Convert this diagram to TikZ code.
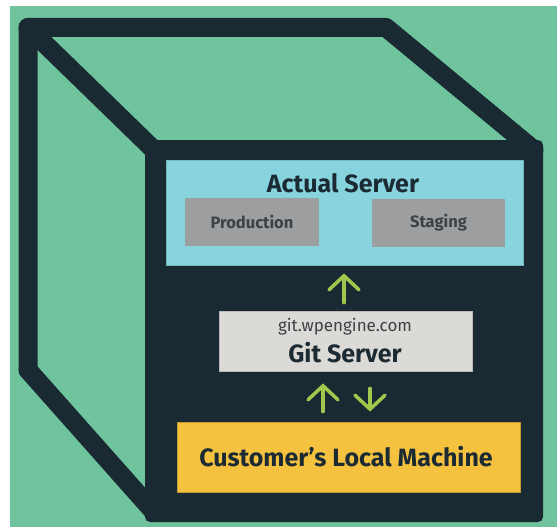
\documentclass[tikz,border=0pt]{standalone}
\usepackage{fontspec}
\setmainfont{Fira Sans}
\usetikzlibrary{arrows.meta,calc}

\definecolor{mint}{HTML}{6FC49E}
\definecolor{navy}{HTML}{1A2A33}
\definecolor{sky}{HTML}{88D4DE}
\definecolor{slate}{HTML}{9C9EA0}
\definecolor{paper}{HTML}{DCDAD6}
\definecolor{amber}{HTML}{F4C23F}
\definecolor{lime}{HTML}{A3C64C}
\definecolor{ink}{HTML}{1C2B33}
\definecolor{inkgray}{HTML}{3C4247}

\tikzset{
  cubeline/.style={draw=navy, line width=19pt, line join=round, line cap=round},
  panel/.style={rectangle, inner sep=0pt, line width=0.8pt},
  title/.style={inner sep=0pt, text=ink, font=\fontsize{25}{30}\selectfont\bfseries},
  small/.style={inner sep=0pt, text=inkgray, font=\fontsize{16.5}{20}\selectfont\bfseries},
  addr/.style={inner sep=0pt, text=inkgray, font=\fontsize{17}{20}\selectfont},
  garrow/.style={draw=lime, line width=3.5pt, line cap=round,
    -{Straight Barb[length=14pt, width=30pt, line width=3.5pt, line cap=round]}},
}

\begin{document}
\begin{tikzpicture}[x=1pt, y=-1pt]
  \useasboundingbox (0,0) rectangle (557,527);
  \fill[white] (0,0) rectangle (557,527);
  \fill[mint] (10,6) rectangle (557,527);

  % back edges of the cube
  \draw[cubeline] (28,370) -- (28,27.5) -- (386,27.5) -- (534,150);
  \draw[cubeline] (28,27.5) -- (154,150);
  \draw[cubeline] (28,370) -- (154,512);
  % front face
  \fill[navy, rounded corners=5pt] (145,140) rectangle (543,522);

  % panels
  \node[panel, fill=sky, draw=sky!85!black, minimum width=357pt, minimum height=105pt]
    (actual) at (344.5,212.5) {};
  \node[title] (actualtitle) at (343,183) {Actual Server};
  \node[panel, fill=slate, minimum width=134pt, minimum height=48pt]
    (prod) at (252,222) {};
  \node[small] (prodlabel) at (prod.center) {Production};
  \node[panel, fill=slate, minimum width=133pt, minimum height=48pt]
    (stag) at (438.5,223) {};
  \node[small] (staglabel) at (stag.center) {Staging};

  \node[panel, fill=paper, draw=paper!85!black, minimum width=253pt, minimum height=60pt]
    (git) at (345.5,341) {};
  \node[addr] (gitaddr) at (345,327) {git.wpengine.com};
  \node[title] (gittitle) at (345,353) {Git Server};

  \node[panel, fill=amber, draw=amber!80!black, minimum width=343pt, minimum height=70pt]
    (cust) at (348.5,457) {};
  \node[title] (custlabel) at (346,457) {Customer's Local Machine};

  % arrows between the panels
  \coordinate (colA) at (344,0);
  \coordinate (colB) at (323,0);
  \coordinate (colC) at (370,0);
  \draw[garrow, shorten <=8pt, shorten >=8pt] (git.north -| colA) -- (actual.south -| colA);
  \draw[garrow, shorten <=10pt, shorten >=12pt] (cust.north -| colB) -- (git.south -| colB);
  \draw[garrow, shorten <=17pt, shorten >=10pt] (git.south -| colC) -- (cust.north -| colC);
\end{tikzpicture}
\end{document}
